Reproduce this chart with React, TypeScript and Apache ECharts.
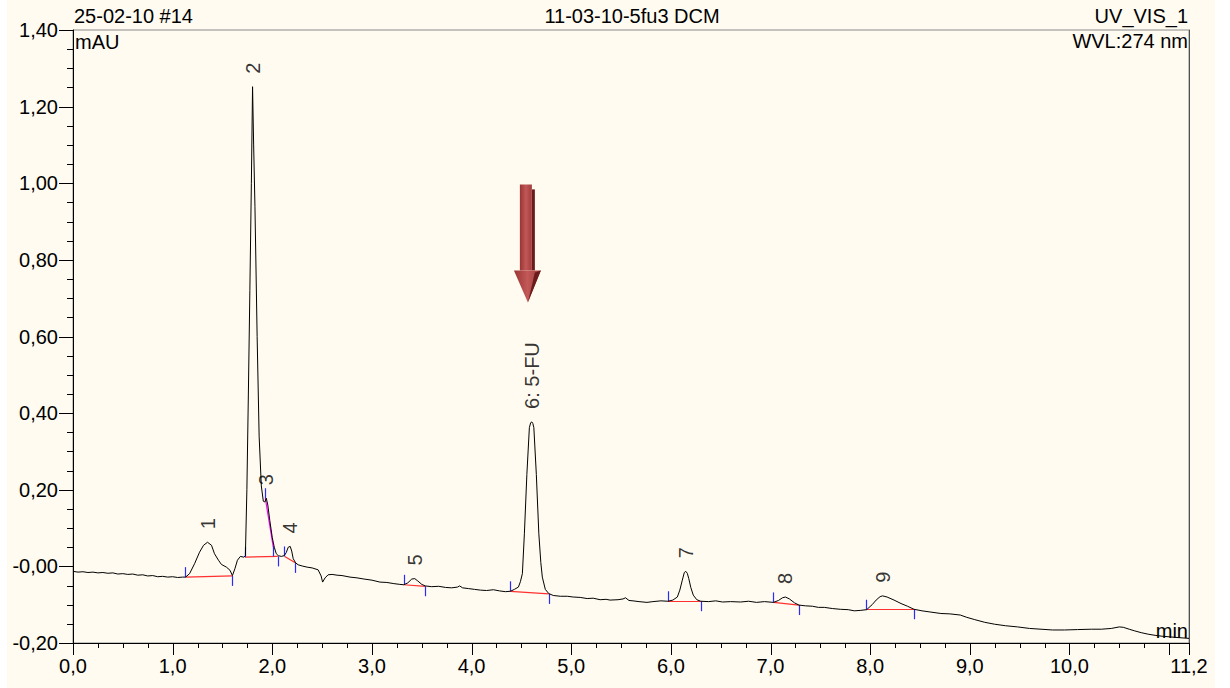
import React, { useEffect, useRef } from "react";
import * as echarts from "echarts";

// ---- data ----
const trace: [number, number][] = [
  [0.0, -0.013], [0.05, -0.015], [0.1, -0.014], [0.15, -0.016], [0.2, -0.015], [0.25, -0.017], [0.3, -0.016],
  [0.35, -0.018], [0.4, -0.017], [0.45, -0.02], [0.5, -0.019], [0.55, -0.021], [0.6, -0.02], [0.65, -0.023],
  [0.7, -0.022], [0.75, -0.025], [0.8, -0.024], [0.85, -0.027], [0.9, -0.026], [0.95, -0.028], [1.0, -0.027],
  [1.05, -0.029], [1.1, -0.028], [1.13, -0.028],
  [1.17, -0.019], [1.22, 0.007], [1.27, 0.037], [1.31, 0.055], [1.35, 0.063], [1.39, 0.055], [1.42, 0.033],
  [1.46, 0.016], [1.49, 0.005], [1.54, -0.002], [1.575, -0.01], [1.6, -0.024], [1.625, -0.006], [1.65, 0.016],
  [1.68, 0.026], [1.715, 0.024], [1.73, 0.028],
  [1.745, 0.2], [1.76, 0.45], [1.775, 0.72], [1.79, 1.0], [1.802, 1.252], [1.813, 1.1], [1.826, 0.94],
  [1.848, 0.6], [1.868, 0.34], [1.89, 0.21], [1.91, 0.17], [1.925, 0.168], [1.94, 0.178], [1.955, 0.16],
  [1.975, 0.12], [2.0, 0.075], [2.02, 0.05], [2.04, 0.033], [2.06, 0.028], [2.09, 0.026], [2.12, 0.028],
  [2.14, 0.036], [2.16, 0.05], [2.18, 0.052], [2.195, 0.04], [2.21, 0.02], [2.235, 0.009], [2.26, 0.004],
  [2.3, 0.001], [2.35, -0.002], [2.4, -0.004], [2.46, -0.009], [2.49, -0.025], [2.505, -0.041], [2.53, -0.03],
  [2.56, -0.022], [2.6, -0.021], [2.65, -0.023], [2.7, -0.024], [2.78, -0.028],
  [2.85, -0.03], [2.92, -0.033], [3.0, -0.036], [3.08, -0.041], [3.15, -0.042], [3.22, -0.045], [3.28, -0.047],
  [3.32, -0.048], [3.36, -0.043], [3.4, -0.033], [3.43, -0.032], [3.46, -0.038], [3.5, -0.047], [3.535, -0.051],
  [3.6, -0.053], [3.67, -0.052], [3.74, -0.055], [3.8, -0.056], [3.86, -0.054], [3.88, -0.051], [3.91, -0.056],
  [3.97, -0.058], [4.03, -0.06], [4.09, -0.062], [4.15, -0.063], [4.22, -0.061], [4.28, -0.064], [4.34, -0.066],
  [4.39, -0.065],
  [4.43, -0.06], [4.47, -0.054], [4.49, -0.04], [4.51, -0.019], [4.53, 0.085], [4.555, 0.24], [4.58, 0.362],
  [4.593, 0.375], [4.605, 0.377], [4.615, 0.373], [4.625, 0.362], [4.65, 0.24], [4.675, 0.085], [4.695, 0.01],
  [4.71, -0.028], [4.74, -0.06], [4.775, -0.071], [4.82, -0.076], [4.89, -0.078], [4.96, -0.078], [5.02, -0.08],
  [5.09, -0.081], [5.16, -0.084], [5.22, -0.083], [5.29, -0.087], [5.35, -0.086], [5.39, -0.088], [5.47, -0.087],
  [5.52, -0.085], [5.545, -0.082], [5.58, -0.089], [5.62, -0.09], [5.68, -0.092], [5.76, -0.094], [5.82, -0.092],
  [5.9, -0.09], [5.97, -0.091],
  [6.02, -0.088], [6.065, -0.08], [6.09, -0.062], [6.115, -0.036], [6.135, -0.016], [6.15, -0.013],
  [6.165, -0.018], [6.18, -0.032], [6.2, -0.055], [6.225, -0.075], [6.26, -0.087], [6.3, -0.091], [6.38, -0.092],
  [6.45, -0.09], [6.52, -0.093], [6.6, -0.092], [6.7, -0.093], [6.78, -0.091], [6.86, -0.094], [6.94, -0.092],
  [7.03, -0.094], [7.08, -0.089], [7.12, -0.082], [7.15, -0.08], [7.19, -0.085], [7.24, -0.095], [7.285, -0.101],
  [7.35, -0.103], [7.42, -0.104], [7.48, -0.107], [7.54, -0.107], [7.62, -0.11], [7.7, -0.112], [7.78, -0.113],
  [7.84, -0.116], [7.9, -0.115], [7.965, -0.113],
  [8.02, -0.1], [8.06, -0.088], [8.1, -0.079], [8.125, -0.077], [8.17, -0.08], [8.24, -0.088], [8.31, -0.097],
  [8.375, -0.104], [8.44, -0.112], [8.52, -0.116], [8.6, -0.119], [8.71, -0.123], [8.8, -0.124], [8.905, -0.127],
  [8.97, -0.133], [9.05, -0.139], [9.15, -0.146], [9.25, -0.151], [9.36, -0.155], [9.48, -0.158], [9.6, -0.162],
  [9.715, -0.164], [9.83, -0.166], [9.95, -0.166], [10.08, -0.165], [10.22, -0.164], [10.32, -0.164],
  [10.42, -0.162], [10.5, -0.158], [10.54, -0.159], [10.6, -0.164], [10.65, -0.168], [10.72, -0.173],
  [10.79, -0.177], [10.86, -0.18], [10.92, -0.182], [11.05, -0.185], [11.2, -0.188],
];

const peakNames = ["1", "2", "3", "4", "5", "6: 5-FU", "7", "8", "9"];
const peakTimes = [1.35, 1.802, 1.94, 2.18, 3.43, 4.605, 6.15, 7.15, 8.125];
const peakHeights = [0.063, 1.252, 0.178, 0.052, -0.032, 0.377, -0.013, -0.08, -0.077];

// integration baselines: [t1, y1, t2, y2]
const baselines = [
  [1.13, -0.028, 1.6, -0.025],
  [1.725, 0.024, 2.055, 0.026],
  [2.125, 0.026, 2.235, 0.009],
  [3.32, -0.048, 3.535, -0.052],
  [4.39, -0.065, 4.775, -0.072],
  [5.97, -0.091, 6.3, -0.091],
  [7.03, -0.094, 7.285, -0.101],
  [7.965, -0.113, 8.44, -0.112],
];
const skimLines = [[1.93, 0.178, 2.01, 0.05]];
const peakStartMarks = [
  [1.13, -0.028], [1.725, 0.024], [1.93, 0.178], [2.01, 0.026], [2.125, 0.026], [3.32, -0.048],
  [4.39, -0.065], [5.97, -0.091], [7.03, -0.094], [7.965, -0.113],
];
const peakEndMarks = [
  [1.6, -0.025], [2.055, 0.026], [2.235, 0.009], [3.535, -0.052], [4.775, -0.072], [6.3, -0.091],
  [7.285, -0.101], [8.44, -0.112],
];

const X_MIN = 0;
const X_MAX = 11.2;
const Y_MIN = -0.2;
const Y_MAX = 1.4;
const xMajorTicks = [0, 1, 2, 3, 4, 5, 6, 7, 8, 9, 10, 11, 11.2];
const xLabelValues = [0, 1, 2, 3, 4, 5, 6, 7, 8, 9, 10, 11.2];
const xMinorTicks = [
  0.25, 0.5, 0.75, 1.25, 1.5, 1.75, 2.25, 2.5, 2.75, 3.25, 3.5, 3.75, 4.25, 4.5, 4.75, 5.25, 5.5, 5.75,
  6.25, 6.5, 6.75, 7.25, 7.5, 7.75, 8.25, 8.5, 8.75, 9.25, 9.5, 9.75, 10.25, 10.5, 10.75,
];
const yMajorTicks = [-0.2, 0, 0.2, 0.4, 0.6, 0.8, 1.0, 1.2, 1.4];
const yMinorTicks = [
  -0.15, -0.1, -0.05, 0.05, 0.1, 0.15, 0.25, 0.3, 0.35, 0.45, 0.5, 0.55, 0.65, 0.7, 0.75, 0.85, 0.9, 0.95,
  1.05, 1.1, 1.15, 1.25, 1.3, 1.35,
];

const arrowTime = 4.545;
const arrowTopValue = 0.997;
const arrowTipValue = 0.689;

const FONT = "'Liberation Sans', Arial, sans-serif";
const CREAM = "#FFFBF0";
const MARK_LEN = 0.026;
const GRID = { left: 73, top: 30, width: 1116, height: 613 };

const fmtComma = (v: number, d: number) => v.toFixed(d).replace(".", ",");

export default function App() {
  const ref = useRef<HTMLDivElement>(null);

  useEffect(() => {
    if (!ref.current) return;
    const chart = echarts.init(ref.current, null, { renderer: "svg" });

    const seg = (a: number[], b: number[]) => [{ coord: a }, { coord: b }];
    const markBase = {
      symbol: ["none", "none"],
      silent: true,
      label: { show: false },
      emphasis: { disabled: true },
      animation: false,
    };

    const option: any = {
      animation: false,
      backgroundColor: "transparent",
      textStyle: { fontFamily: FONT },
      graphic: [
        { id: "t1", type: "text", x: 74, y: 26, style: { text: "25-02-10 #14", font: `20px ${FONT}`, fill: "#000", align: "left", verticalAlign: "bottom" } },
        { id: "t2", type: "text", x: 632, y: 26, style: { text: "11-03-10-5fu3 DCM", font: `20px ${FONT}`, fill: "#000", align: "center", verticalAlign: "bottom" } },
        { id: "t3", type: "text", x: 1188, y: 26, style: { text: "UV_VIS_1", font: `20px ${FONT}`, fill: "#000", align: "right", verticalAlign: "bottom" } },
        { id: "t4", type: "text", x: 1188, y: 31, style: { text: "WVL:274 nm", font: `20px ${FONT}`, fill: "#000", align: "right", verticalAlign: "top" } },
      ],
      grid: { ...GRID, show: true, backgroundColor: "transparent", borderColor: "#8a8a8a", borderWidth: 1 },
      xAxis: {
        type: "value", min: X_MIN, max: X_MAX, position: "bottom",
        name: "min", nameLocation: "end", nameGap: -1,
        nameTextStyle: { fontSize: 20, fontFamily: FONT, color: "#000", align: "right", verticalAlign: "bottom", padding: [0, 0, 2, 0] },
        axisLine: { show: true, onZero: false, lineStyle: { color: "#000", width: 1 } },
        axisTick: { show: false },
        axisLabel: {
          show: true, customValues: xLabelValues, margin: 13, color: "#000", fontSize: 20, fontFamily: FONT,
          formatter: (v: number) => fmtComma(v, 1),
        },
        splitLine: { show: false },
      },
      yAxis: [
        {
          type: "value", min: Y_MIN, max: Y_MAX, interval: 0.2, position: "left",
          name: "mAU", nameLocation: "end", nameGap: -2,
          nameTextStyle: { fontSize: 20, fontFamily: FONT, color: "#000", align: "left", verticalAlign: "top", padding: [0, 0, 0, 2] },
          axisLine: { show: true, onZero: false, lineStyle: { color: "#000", width: 1 } },
          axisTick: { show: false },
          axisLabel: {
            margin: 15, color: "#000", fontSize: 20, fontFamily: FONT,
            formatter: (v: number) => (Math.abs(v) < 1e-9 ? "-0,00" : fmtComma(v, 2)),
          },
          splitLine: { show: false },
        },
        {
          type: "value", min: Y_MIN, max: Y_MAX, position: "right",
          axisLine: { show: true, onZero: false, lineStyle: { color: "#505050", width: 1 } },
          axisTick: { show: false },
          axisLabel: { show: false },
          splitLine: { show: false },
        },
      ],
      series: [
        {
          type: "line", data: [], silent: true,
          markLine: { ...markBase, lineStyle: { color: "#ff3030", width: 1.2, type: "solid" }, data: baselines.map((b) => seg([b[0], b[1]], [b[2], b[3]])) },
        },
        {
          type: "line", data: [], silent: true,
          markLine: { ...markBase, lineStyle: { color: "#ff00ff", width: 1.2, type: "solid" }, data: skimLines.map((b) => seg([b[0], b[1]], [b[2], b[3]])) },
        },
        {
          type: "line", data: trace, showSymbol: false, symbol: "none", silent: true, z: 5,
          lineStyle: { color: "#000", width: 1 },
        },
        {
          type: "line", data: [], silent: true, z: 6,
          markLine: {
            ...markBase, lineStyle: { color: "#2a2aff", width: 1.2, type: "solid" },
            data: [
              ...peakStartMarks.map((m) => seg([m[0], m[1]], [m[0], m[1] + MARK_LEN])),
              ...peakEndMarks.map((m) => seg([m[0], m[1]], [m[0], m[1] - MARK_LEN])),
            ],
          },
        },
        {
          type: "scatter", silent: true, symbol: "circle", symbolSize: 0.1, z: 7,
          itemStyle: { color: "rgba(0,0,0,0)" },
          data: peakNames.map((n, i) => ({ name: n, value: [peakTimes[i], peakHeights[i]] })),
          label: {
            show: true, formatter: "{b}", position: "top", distance: 13, rotate: 90,
            align: "left", verticalAlign: "middle", color: "#000", fontSize: 20, fontFamily: FONT,
          },
        },
      ],
    };

    chart.setOption(option);

    const px = (x: number, y: number) => chart.convertToPixel({ gridIndex: 0 }, [x, y]) as number[];
    const extra: any[] = [];

    // axis ticks, positioned through the chart's own scales
    const addXTicks = (vals: number[], len: number, key: string) =>
      vals.forEach((v, i) => {
        const p = px(v, Y_MIN);
        if (!p) return;
        const x = Math.round(p[0]) + 0.5;
        extra.push({ id: `${key}${i}`, type: "line", z: 20, silent: true, shape: { x1: x, y1: p[1], x2: x, y2: p[1] + len }, style: { stroke: "#000", lineWidth: 1 } });
      });
    const addYTicks = (vals: number[], len: number, key: string) =>
      vals.forEach((v, i) => {
        const p = px(X_MIN, v);
        if (!p) return;
        const y = Math.round(p[1]) + 0.5;
        extra.push({ id: `${key}${i}`, type: "line", z: 20, silent: true, shape: { x1: p[0] - len, y1: y, x2: p[0], y2: y }, style: { stroke: "#000", lineWidth: 1 } });
      });
    addXTicks(xMajorTicks, 12, "xM");
    addXTicks(xMinorTicks, 5, "xm");
    addYTicks(yMajorTicks, 14, "yM");
    addYTicks(yMinorTicks, 6, "ym");

    const top = px(arrowTime, arrowTopValue);
    const tip = px(arrowTime, arrowTipValue);
    if (top && tip) {
      const cx = top[0];
      const yt = top[1];
      const yp = tip[1];
      const headTop = yp - 32;
      const grad = new echarts.graphic.LinearGradient(0, 0, 1, 0, [
        { offset: 0, color: "#9a3434" },
        { offset: 0.5, color: "#c25858" },
        { offset: 1, color: "#a23c3c" },
      ]);
      extra.push(
        { id: "a_dark", type: "rect", z: 10, shape: { x: cx + 6, y: yt + 5, width: 3, height: headTop - yt - 5 }, style: { fill: "#6a1c1c" } },
        { id: "a_shaft", type: "rect", z: 11, shape: { x: cx - 6, y: yt, width: 12, height: headTop - yt }, style: { fill: grad } },
        { id: "a_head", type: "polygon", z: 11, shape: { points: [[cx - 12, headTop], [cx + 15, headTop], [cx + 2, yp]] }, style: { fill: grad } },
        { id: "a_headdark", type: "polygon", z: 12, shape: { points: [[cx + 2, yp], [cx + 15, headTop], [cx + 9, headTop + 2]] }, style: { fill: "#6a1c1c" } },
      );
    }
    chart.setOption({ graphic: extra });

    return () => chart.dispose();
  }, []);

  return (
    <div style={{ position: "fixed", left: 0, top: 0, width: 1230, height: 688, background: "#fff" }}>
      <div
        ref={ref}
        style={{
          width: 1230,
          height: 688,
          background: `linear-gradient(to right, #ffffff 0px, #ffffff 7px, ${CREAM} 7px, ${CREAM} 1215px, #ffffff 1215px)`,
        }}
      />
    </div>
  );
}
